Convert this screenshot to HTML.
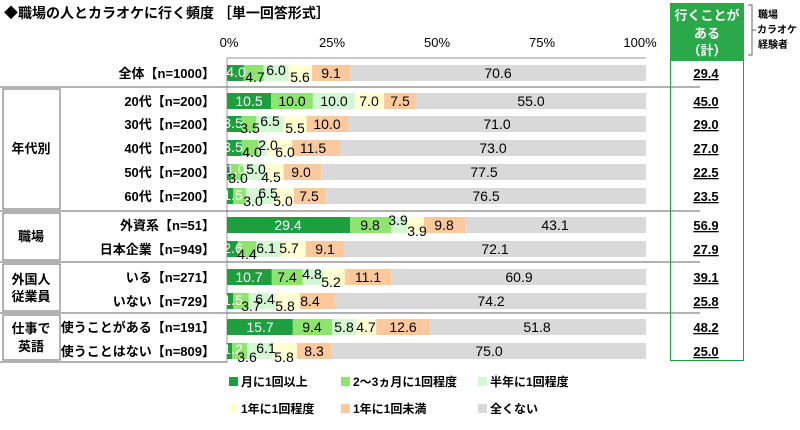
<!DOCTYPE html><html><head><meta charset="utf-8"><style>
body{margin:0;background:#fff}
svg{display:block;font-family:"Liberation Sans","Noto Sans CJK JP",sans-serif}
.v{font-size:14px;text-anchor:middle;fill:#000}
.w{fill:#fff}
.l{font-size:13px;font-weight:bold;text-anchor:end}
.r{font-size:13px;font-weight:bold;text-anchor:middle;text-decoration:underline}
.a{fill:#1e9e3e}.b{fill:#8fe36f}.c{fill:#d4f7d4}.d{fill:#ffffd2}.e{fill:#fbc99c}.f{fill:#d9d9d9}
</style></head><body>
<svg width="800" height="430" viewBox="0 0 800 430">
<text x="4" y="18" font-size="14" font-weight="bold">◆職場の人とカラオケに行く頻度 ［単一回答形式］</text>
<g font-size="13" text-anchor="middle">
<text x="229" y="47">0%</text><text x="332" y="47">25%</text><text x="437" y="47">50%</text><text x="542" y="47">75%</text><text x="640" y="47">100%</text></g>
<line x1="227" y1="58" x2="646" y2="58" stroke="#999"/>
<line x1="227" y1="58" x2="227" y2="362" stroke="#999"/>
<g stroke="#666" stroke-width="1">
<line x1="0" y1="87" x2="700" y2="87"/><line x1="0" y1="211" x2="700" y2="211"/><line x1="0" y1="262" x2="700" y2="262"/><line x1="0" y1="313" x2="700" y2="313"/><line x1="0" y1="362" x2="227" y2="362"/></g>
<g fill="none" stroke="#666"><rect x="3" y="89" width="57" height="120"/><rect x="3" y="213" width="57" height="47"/><rect x="3" y="264" width="57" height="47"/><rect x="3" y="315" width="57" height="45"/></g>
<g font-size="13" font-weight="bold" text-anchor="middle">
<text x="31" y="153">年代別</text><text x="31" y="241">職場</text><text x="31" y="284">外国人</text><text x="31" y="301">従業員</text><text x="31" y="333">仕事で</text><text x="31" y="351">英語</text></g>
<rect x="670.5" y="3.5" width="73" height="357" fill="none" stroke="#1e9e3e"/>
<rect x="670" y="3" width="74" height="58" fill="#2aa84a"/>
<g font-size="13" font-weight="bold" fill="#fff" text-anchor="middle"><text x="707" y="20">行くことが</text><text x="707" y="38">ある</text><text x="707" y="55">（計）</text></g>
<path d="M748 5h4v50h-4M752 30h4" fill="none" stroke="#666"/>
<g font-size="10" font-weight="bold"><text x="758" y="18">職場</text><text x="757" y="33">カラオケ</text><text x="758" y="48">経験者</text></g>

<g transform="translate(0,73)"><text class="l" x="215" y="5">全体【n=1000】</text>
<rect class="a" x="227" y="-8" width="16.8" height="16"/><rect class="b" x="243.8" y="-8" width="19.7" height="16"/><rect class="c" x="263.5" y="-8" width="25.1" height="16"/><rect class="d" x="288.6" y="-8" width="23.5" height="16"/><rect class="e" x="312.1" y="-8" width="38.1" height="16"/><rect class="f" x="350.2" y="-8" width="295.8" height="16"/>
<text class="v w" x="236" y="4">4.0</text><text class="v" x="255" y="9">4.7</text><text class="v" x="276" y="2">6.0</text><text class="v" x="300" y="9">5.6</text><text class="v" x="331" y="5">9.1</text><text class="v" x="498" y="5">70.6</text><text class="r" x="706" y="5">29.4</text></g>

<g transform="translate(0,101)"><text class="l" x="215" y="5">20代【n=200】</text>
<rect class="a" x="227" y="-8" width="44" height="16"/><rect class="b" x="271" y="-8" width="41.9" height="16"/><rect class="c" x="312.9" y="-8" width="41.9" height="16"/><rect class="d" x="354.8" y="-8" width="29.3" height="16"/><rect class="e" x="384.1" y="-8" width="31.5" height="16"/><rect class="f" x="415.6" y="-8" width="230.4" height="16"/>
<text class="v w" x="249" y="5">10.5</text><text class="v" x="292" y="5">10.0</text><text class="v" x="334" y="5">10.0</text><text class="v" x="369" y="5">7.0</text><text class="v" x="400" y="5">7.5</text><text class="v" x="531" y="5">55.0</text><text class="r" x="706" y="5">45.0</text></g>

<g transform="translate(0,124)"><text class="l" x="215" y="5">30代【n=200】</text>
<rect class="a" x="227" y="-8" width="14.7" height="16"/><rect class="b" x="241.7" y="-8" width="14.6" height="16"/><rect class="c" x="256.3" y="-8" width="27.3" height="16"/><rect class="d" x="283.6" y="-8" width="23" height="16"/><rect class="e" x="306.6" y="-8" width="41.9" height="16"/><rect class="f" x="348.5" y="-8" width="297.5" height="16"/>
<text class="v w" x="233" y="4">3.5</text><text class="v" x="250" y="9">3.5</text><text class="v" x="270" y="2">6.5</text><text class="v" x="295" y="9">5.5</text><text class="v" x="327" y="5">10.0</text><text class="v" x="497" y="5">71.0</text><text class="r" x="706" y="5">29.0</text></g>

<g transform="translate(0,148)"><text class="l" x="215" y="5">40代【n=200】</text>
<rect class="a" x="227" y="-8" width="14.7" height="16"/><rect class="b" x="241.7" y="-8" width="16.7" height="16"/><rect class="c" x="258.4" y="-8" width="8.4" height="16"/><rect class="d" x="266.8" y="-8" width="25.1" height="16"/><rect class="e" x="291.9" y="-8" width="48.2" height="16"/><rect class="f" x="340.1" y="-8" width="305.9" height="16"/>
<text class="v w" x="233" y="4">3.5</text><text class="v" x="252" y="9">4.0</text><text class="v" x="268" y="2">2.0</text><text class="v" x="285" y="9">6.0</text><text class="v" x="313" y="5">11.5</text><text class="v" x="493" y="5">73.0</text><text class="r" x="706" y="5">27.0</text></g>

<g transform="translate(0,172)"><text class="l" x="215" y="5">50代【n=200】</text>
<rect class="a" x="227" y="-8" width="4.2" height="16"/><rect class="b" x="231.2" y="-8" width="12.6" height="16"/><rect class="c" x="243.8" y="-8" width="20.9" height="16"/><rect class="d" x="264.7" y="-8" width="18.9" height="16"/><rect class="e" x="283.6" y="-8" width="37.7" height="16"/><rect class="f" x="321.3" y="-8" width="324.7" height="16"/>
<text class="v w" x="236" y="2">1.0</text><text class="v" x="238" y="11">3.0</text><text class="v" x="256" y="2">5.0</text><text class="v" x="271" y="10">4.5</text><text class="v" x="301" y="5">9.0</text><text class="v" x="484" y="5">77.5</text><text class="r" x="706" y="5">22.5</text></g>

<g transform="translate(0,196)"><text class="l" x="215" y="5">60代【n=200】</text>
<rect class="a" x="227" y="-8" width="6.3" height="16"/><rect class="b" x="233.3" y="-8" width="12.6" height="16"/><rect class="c" x="245.9" y="-8" width="27.2" height="16"/><rect class="d" x="273.1" y="-8" width="20.9" height="16"/><rect class="e" x="294" y="-8" width="31.5" height="16"/><rect class="f" x="325.5" y="-8" width="320.5" height="16"/>
<text class="v w" x="233" y="4">1.5</text><text class="v" x="253" y="10">3.0</text><text class="v" x="268" y="2">6.5</text><text class="v" x="283" y="10">5.0</text><text class="v" x="309" y="5">7.5</text><text class="v" x="486" y="5">76.5</text><text class="r" x="706" y="5">23.5</text></g>

<g transform="translate(0,225)"><text class="l" x="215" y="5">外資系【n=51】</text>
<rect class="a" x="227" y="-8" width="123.2" height="16"/><rect class="b" x="350.2" y="-8" width="41" height="16"/><rect class="c" x="391.2" y="-8" width="16.4" height="16"/><rect class="d" x="407.6" y="-8" width="16.3" height="16"/><rect class="e" x="423.9" y="-8" width="41.1" height="16"/><rect class="f" x="465" y="-8" width="181" height="16"/>
<text class="v w" x="288" y="5">29.4</text><text class="v" x="370" y="5">9.8</text><text class="v" x="398" y="0">3.9</text><text class="v" x="417" y="11">3.9</text><text class="v" x="444" y="5">9.8</text><text class="v" x="555" y="5">43.1</text><text class="r" x="706" y="5">56.9</text></g>

<g transform="translate(0,249)"><text class="l" x="215" y="5">日本企業【n=949】</text>
<rect class="a" x="227" y="-8" width="10.9" height="16"/><rect class="b" x="237.9" y="-8" width="18.4" height="16"/><rect class="c" x="256.3" y="-8" width="25.6" height="16"/><rect class="d" x="281.9" y="-8" width="23.9" height="16"/><rect class="e" x="305.8" y="-8" width="38.1" height="16"/><rect class="f" x="343.9" y="-8" width="302.1" height="16"/>
<text class="v w" x="233" y="4">2.6</text><text class="v" x="247" y="10">4.4</text><text class="v" x="266" y="4">6.1</text><text class="v" x="289" y="4">5.7</text><text class="v" x="325" y="5">9.1</text><text class="v" x="495" y="5">72.1</text><text class="r" x="706" y="5">27.9</text></g>

<g transform="translate(0,277)"><text class="l" x="215" y="5">いる【n=271】</text>
<rect class="a" x="227" y="-8" width="44.8" height="16"/><rect class="b" x="271.8" y="-8" width="31" height="16"/><rect class="c" x="302.8" y="-8" width="20.2" height="16"/><rect class="d" x="323" y="-8" width="21.7" height="16"/><rect class="e" x="344.7" y="-8" width="46.5" height="16"/><rect class="f" x="391.2" y="-8" width="254.8" height="16"/>
<text class="v w" x="249" y="5">10.7</text><text class="v" x="287" y="5">7.4</text><text class="v" x="312" y="2">4.8</text><text class="v" x="331" y="10">5.2</text><text class="v" x="368" y="5">11.1</text><text class="v" x="519" y="5">60.9</text><text class="r" x="706" y="5">39.1</text></g>

<g transform="translate(0,301)"><text class="l" x="215" y="5">いない【n=729】</text>
<rect class="a" x="227" y="-8" width="6.3" height="16"/><rect class="b" x="233.3" y="-8" width="15.5" height="16"/><rect class="c" x="248.8" y="-8" width="26.8" height="16"/><rect class="d" x="275.6" y="-8" width="24.3" height="16"/><rect class="e" x="299.9" y="-8" width="35.2" height="16"/><rect class="f" x="335.1" y="-8" width="310.9" height="16"/>
<text class="v w" x="233" y="4">1.5</text><text class="v" x="251" y="10">3.7</text><text class="v" x="265" y="3">6.4</text><text class="v" x="285" y="10">5.8</text><text class="v" x="310" y="5">8.4</text><text class="v" x="491" y="5">74.2</text><text class="r" x="706" y="5">25.8</text></g>

<g transform="translate(0,327)"><text class="l" x="215" y="5">使うことがある【n=191】</text>
<rect class="a" x="227" y="-8" width="65.8" height="16"/><rect class="b" x="292.8" y="-8" width="39.4" height="16"/><rect class="c" x="332.2" y="-8" width="24.3" height="16"/><rect class="d" x="356.5" y="-8" width="19.7" height="16"/><rect class="e" x="376.2" y="-8" width="52.8" height="16"/><rect class="f" x="429" y="-8" width="217" height="16"/>
<text class="v w" x="260" y="5">15.7</text><text class="v" x="312" y="5">9.4</text><text class="v" x="344" y="5">5.8</text><text class="v" x="366" y="5">4.7</text><text class="v" x="403" y="5">12.6</text><text class="v" x="537" y="5">51.8</text><text class="r" x="706" y="5">48.2</text></g>

<g transform="translate(0,351)"><text class="l" x="215" y="5">使うことはない【n=809】</text>
<rect class="a" x="227" y="-8" width="5" height="16"/><rect class="b" x="232" y="-8" width="15.1" height="16"/><rect class="c" x="247.1" y="-8" width="25.6" height="16"/><rect class="d" x="272.7" y="-8" width="24.3" height="16"/><rect class="e" x="297" y="-8" width="34.8" height="16"/><rect class="f" x="331.8" y="-8" width="314.2" height="16"/>
<text class="v w" x="233" y="3">1.2</text><text class="v" x="247" y="11">3.6</text><text class="v" x="266" y="2">6.1</text><text class="v" x="284" y="11">5.8</text><text class="v" x="314" y="5">8.3</text><text class="v" x="489" y="5">75.0</text><text class="r" x="706" y="5">25.0</text></g>

<g font-size="12" font-weight="bold">
<rect class="a" x="229" y="377" width="9" height="9"/><text x="241" y="386">月に1回以上</text>
<rect class="b" x="341" y="377" width="9" height="9"/><text x="353" y="386">2～3ヵ月に1回程度</text>
<rect class="c" x="478" y="377" width="9" height="9"/><text x="490" y="386">半年に1回程度</text>
<rect class="d" x="229" y="404" width="9" height="9"/><text x="241" y="413">1年に1回程度</text>
<rect class="e" x="341" y="404" width="9" height="9"/><text x="353" y="413">1年に1回未満</text>
<rect class="f" x="478" y="404" width="9" height="9"/><text x="490" y="413">全くない</text>
</g>
</svg></body></html>
